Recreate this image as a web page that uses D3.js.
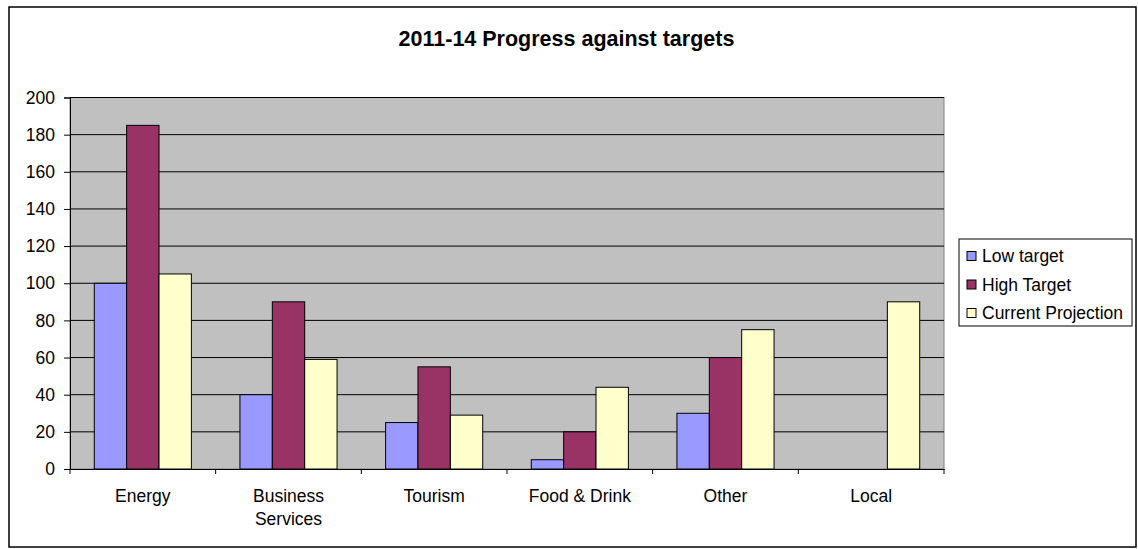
<!DOCTYPE html>
<html>
<head>
<meta charset="utf-8">
<script src="https://cdn.jsdelivr.net/npm/d3@7"></script>
<style>
  body { margin: 0; background: #fff; }
  text { font-family: "Liberation Sans", Arial, sans-serif; }
</style>
</head>
<body>
<script>
// data
var categories = ["Energy", "Business Services", "Tourism", "Food & Drink", "Other", "Local"]
var seriesNames = ["Low target", "High Target", "Current Projection"]
var lowTarget = [100, 40, 25, 5, 30, 0]
var highTarget = [185, 90, 55, 20, 60, 0]
var currentProjection = [105, 59, 29, 44, 75, 90]
var yTicks = [0, 20, 40, 60, 80, 100, 120, 140, 160, 180, 200]
var colors = ["#9999FF", "#993366", "#FFFFCC"]

var series = [lowTarget, highTarget, currentProjection]

var W = 1138, H = 549
var plot = {left: 70, top: 97.5, right: 944, bottom: 469}

var svg = d3.select("body")
            .append("svg")
            .attr("width", W)
            .attr("height", H)

// outer frame
svg.append("rect")
    .attr("x", 9)
    .attr("y", 7)
    .attr("width", 1127)
    .attr("height", 540)
    .attr("fill", "white")
    .attr("stroke", "#000")
    .attr("stroke-width", 1.5)

// title
svg.append("text")
    .attr("x", 566.5)
    .attr("y", 46)
    .attr("text-anchor", "middle")
    .style("font-size", "21.5px")
    .style("font-weight", "bold")
    .text("2011-14 Progress against targets")

var x0 = d3.scaleBand()
    .domain(categories)
    .range([plot.left, plot.right])

// Excel gap width 150%: 3 bars + 1.5 bar gap per category
var x1 = d3.scaleBand()
    .domain(d3.range(series.length))
    .range([0, x0.bandwidth() * 3 / 4.5])

var y = d3.scaleLinear()
    .domain([0, 200])
    .range([plot.bottom, plot.top])

// plot background
svg.append("rect")
    .attr("x", plot.left)
    .attr("y", plot.top)
    .attr("width", plot.right - plot.left)
    .attr("height", plot.bottom - plot.top)
    .attr("fill", "#C0C0C0")
    .attr("stroke", "#808080")
    .attr("stroke-width", 1)

// gridlines
svg.append("g")
    .selectAll("line")
    .data(yTicks.filter(d => d > 0))
    .enter()
    .append("line")
    .attr("x1", plot.left)
    .attr("x2", plot.right)
    .attr("y1", d => y(d))
    .attr("y2", d => y(d))
    .attr("stroke", "#000")
    .attr("stroke-width", 1)

// bars
var offset = x0.bandwidth() * 0.75 / 4.5
var groups = svg.append("g")
    .selectAll("g")
    .data(series)
    .enter()
    .append("g")
    .attr("fill", (d, i) => colors[i])

groups.selectAll("rect")
    .data((d, i) => d.map((v, j) => ({v: v, s: i, c: categories[j]})))
    .enter()
    .filter(d => d.v > 0)
    .append("rect")
    .attr("x", d => x0(d.c) + offset + x1(d.s))
    .attr("y", d => y(d.v))
    .attr("width", x1.bandwidth())
    .attr("height", d => y(0) - y(d.v))
    .attr("stroke", "#000")
    .attr("stroke-width", 1)

// y axis
var yAxis = svg.append("g")
    .attr("transform", "translate(" + plot.left + ",0)")
    .call(d3.axisLeft(y).tickValues(yTicks).tickSize(6).tickPadding(9))
yAxis.select(".domain").attr("stroke", "#000")
yAxis.selectAll("text").style("font-size", "17.5px").attr("fill", "#000")

// x axis
var xAxis = svg.append("g")
    .attr("transform", "translate(0," + plot.bottom + ")")
    .call(d3.axisBottom(x0).tickValues([]).tickSizeOuter(0))
xAxis.select(".domain").attr("stroke", "#000")

var boundaries = categories.map(c => x0(c)).concat([plot.right])
xAxis.selectAll(".sep")
    .data(boundaries)
    .enter()
    .append("line")
    .attr("x1", d => d)
    .attr("x2", d => d)
    .attr("y1", 0)
    .attr("y2", 5)
    .attr("stroke", "#000")

// category labels, wrapped like Excel
var labelLines = {"Business Services": ["Business", "Services"]}
var lbl = svg.append("g")
    .selectAll("text")
    .data(categories)
    .enter()
    .append("text")
    .attr("text-anchor", "middle")
    .attr("x", d => x0(d) + x0.bandwidth() / 2)
    .attr("y", 502)
    .style("font-size", "17.5px")

lbl.selectAll("tspan")
    .data(d => labelLines[d] || [d])
    .enter()
    .append("tspan")
    .attr("x", function() { return d3.select(this.parentNode).attr("x") })
    .attr("dy", (d, i) => i === 0 ? 0 : 23)
    .text(d => d)

// legend
var legend = svg.append("g")
legend.append("rect")
    .attr("x", 959)
    .attr("y", 239)
    .attr("width", 173)
    .attr("height", 87)
    .attr("fill", "white")
    .attr("stroke", "#000")
    .attr("stroke-width", 1)

var items = legend.selectAll(".item")
    .data(seriesNames)
    .enter()
    .append("g")
    .attr("transform", (d, i) => "translate(967," + (256 + i * 28.5) + ")")

items.append("rect")
    .attr("x", 0)
    .attr("y", -4.5)
    .attr("width", 9)
    .attr("height", 9)
    .attr("fill", (d, i) => colors[i])
    .attr("stroke", "#000")

items.append("text")
    .attr("x", 15)
    .attr("y", 6)
    .style("font-size", "17.5px")
    .text(d => d)
</script>
</body>
</html>
